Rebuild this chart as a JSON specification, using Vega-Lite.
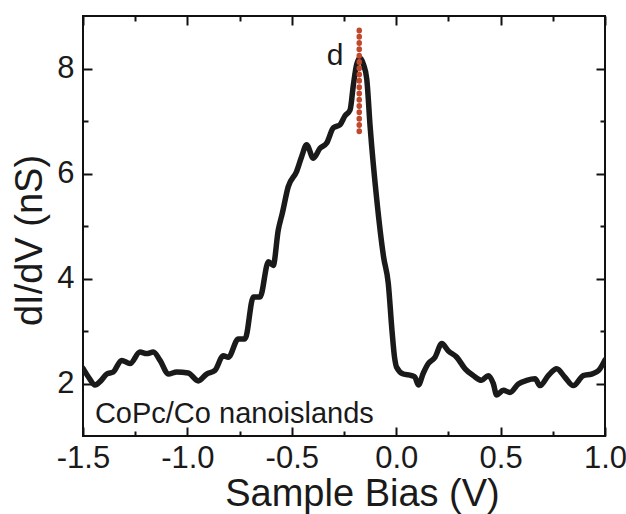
{
  "$schema": "https://vega.github.io/schema/vega-lite/v6.json",
  "width": 522,
  "height": 420,
  "autosize": {"type": "none"},
  "padding": {"left": 83, "top": 16, "right": 21, "bottom": 78},
  "config": {
    "view": {"stroke": "#111", "strokeWidth": 2},
    "font": "Liberation Sans",
    "axis": {
      "grid": false,
      "domain": false,
      "tickColor": "#111",
      "tickWidth": 2,
      "labelColor": "#1a1a1a",
      "titleColor": "#1a1a1a",
      "labelFont": "Liberation Sans",
      "titleFont": "Liberation Sans",
      "titleFontWeight": "normal",
      "labelFontSize": 31,
      "titleFontSize": 38
    }
  },
  "layer": [
    {
      "data": {"values": [
        {"bias": -1.5, "g": 2.29}, {"bias": -1.47, "g": 2.1}, {"bias": -1.443, "g": 1.97}, {"bias": -1.415, "g": 2.05},
        {"bias": -1.386, "g": 2.18}, {"bias": -1.355, "g": 2.22}, {"bias": -1.315, "g": 2.44}, {"bias": -1.275, "g": 2.38},
        {"bias": -1.227, "g": 2.6}, {"bias": -1.195, "g": 2.57}, {"bias": -1.163, "g": 2.6}, {"bias": -1.131, "g": 2.44},
        {"bias": -1.091, "g": 2.18}, {"bias": -1.051, "g": 2.22}, {"bias": -0.996, "g": 2.2}, {"bias": -0.948, "g": 2.05},
        {"bias": -0.908, "g": 2.18}, {"bias": -0.868, "g": 2.25}, {"bias": -0.828, "g": 2.53}, {"bias": -0.804, "g": 2.5},
        {"bias": -0.756, "g": 2.85}, {"bias": -0.724, "g": 2.85}, {"bias": -0.684, "g": 3.65}, {"bias": -0.652, "g": 3.65},
        {"bias": -0.612, "g": 4.32}, {"bias": -0.589, "g": 4.25}, {"bias": -0.565, "g": 4.92}, {"bias": -0.545, "g": 5.25},
        {"bias": -0.517, "g": 5.75}, {"bias": -0.477, "g": 6.04}, {"bias": -0.453, "g": 6.32}, {"bias": -0.429, "g": 6.55},
        {"bias": -0.397, "g": 6.29}, {"bias": -0.365, "g": 6.48}, {"bias": -0.333, "g": 6.58}, {"bias": -0.301, "g": 6.87},
        {"bias": -0.269, "g": 6.93}, {"bias": -0.245, "g": 7.1}, {"bias": -0.221, "g": 7.21}, {"bias": -0.205, "g": 7.69},
        {"bias": -0.189, "g": 8.08}, {"bias": -0.173, "g": 8.2}, {"bias": -0.157, "g": 8.08}, {"bias": -0.141, "g": 7.8},
        {"bias": -0.125, "g": 6.9}, {"bias": -0.093, "g": 5.5}, {"bias": -0.06, "g": 4.4}, {"bias": -0.038, "g": 3.91},
        {"bias": -0.02, "g": 3.0}, {"bias": -0.008, "g": 2.5}, {"bias": 0.002, "g": 2.31}, {"bias": 0.034, "g": 2.18},
        {"bias": 0.074, "g": 2.15}, {"bias": 0.09, "g": 2.12}, {"bias": 0.106, "g": 1.97}, {"bias": 0.13, "g": 2.2},
        {"bias": 0.154, "g": 2.38}, {"bias": 0.186, "g": 2.5}, {"bias": 0.218, "g": 2.76}, {"bias": 0.25, "g": 2.62},
        {"bias": 0.29, "g": 2.5}, {"bias": 0.33, "g": 2.28}, {"bias": 0.369, "g": 2.15}, {"bias": 0.409, "g": 2.06},
        {"bias": 0.441, "g": 2.15}, {"bias": 0.465, "g": 2.0}, {"bias": 0.481, "g": 1.78}, {"bias": 0.513, "g": 1.87},
        {"bias": 0.545, "g": 1.83}, {"bias": 0.585, "g": 1.99}, {"bias": 0.625, "g": 2.06}, {"bias": 0.665, "g": 2.09},
        {"bias": 0.689, "g": 1.96}, {"bias": 0.728, "g": 2.15}, {"bias": 0.769, "g": 2.28}, {"bias": 0.808, "g": 2.12},
        {"bias": 0.848, "g": 1.96}, {"bias": 0.896, "g": 2.15}, {"bias": 0.936, "g": 2.18}, {"bias": 0.97, "g": 2.25},
        {"bias": 1.0, "g": 2.45}
      ]},
      "mark": {"type": "line", "interpolate": "monotone", "stroke": "#1a1a1a", "strokeWidth": 5.5, "strokeCap": "round", "strokeJoin": "round", "clip": true},
      "encoding": {
        "x": {
          "field": "bias", "type": "quantitative",
          "scale": {"domain": [-1.5, 1.0], "nice": false, "zero": false},
          "axis": {
            "orient": "bottom",
            "title": "Sample Bias (V)",
            "titleX": 279,
            "titleY": 69,
            "titleBaseline": "alphabetic",
            "values": [-1.5, -1.25, -1.0, -0.75, -0.5, -0.25, 0, 0.25, 0.5, 0.75, 1.0],
            "labelExpr": "abs(datum.value*2 - round(datum.value*2)) < 0.001 ? replace(format(datum.value, '.1f'), '\u2212', '-') : ''",
            "tickSize": {"condition": {"test": "abs(datum.value*2 - round(datum.value*2)) < 0.001", "value": -9}, "value": -5},
            "labelPadding": 16,
            "labelFlush": false,
            "labelOverlap": false
          }
        },
        "y": {
          "field": "g", "type": "quantitative",
          "scale": {"domain": [1, 9], "nice": false, "zero": false},
          "axis": {
            "orient": "left",
            "title": "dI/dV (nS)",
            "titleY": 224,
            "titleX": -34,
            "values": [2, 3, 4, 5, 6, 7, 8],
            "labelExpr": "datum.value % 2 == 0 ? format(datum.value, 'd') : ''",
            "tickSize": {"condition": {"test": "datum.value % 2 == 0", "value": -9}, "value": -5},
            "labelPadding": 18,
            "labelFlush": false,
            "labelOverlap": false
          }
        }
      }
    },
    {
      "data": {"values": [{"bias": -0.177, "lo": 6.8, "hi": 8.82}]},
      "mark": {"type": "rule", "stroke": "#c0482c", "strokeWidth": 5.5, "strokeCap": "round", "strokeDash": [0.5, 5.8]},
      "encoding": {
        "x": {
          "field": "bias", "type": "quantitative",
          "axis": {
            "orient": "top",
            "title": null,
            "labels": false,
            "values": [-1.5, -1.25, -1.0, -0.75, -0.5, -0.25, 0, 0.25, 0.5, 0.75, 1.0],
            "tickSize": {"condition": {"test": "abs(datum.value*2 - round(datum.value*2)) < 0.001", "value": -9}, "value": -5}
          }
        },
        "y": {
          "field": "lo", "type": "quantitative",
          "axis": {
            "orient": "right",
            "title": null,
            "labels": false,
            "values": [2, 3, 4, 5, 6, 7, 8],
            "tickSize": {"condition": {"test": "datum.value % 2 == 0", "value": -9}, "value": -5}
          }
        },
        "y2": {"field": "hi"}
      }
    },
    {
      "data": {"values": [{"bias": -0.293, "g": 8.06, "label": "d"}]},
      "mark": {"type": "text", "font": "Liberation Sans", "fontSize": 30, "color": "#1a1a1a", "align": "center", "baseline": "alphabetic"},
      "encoding": {
        "x": {"field": "bias", "type": "quantitative", "axis": null},
        "y": {"field": "g", "type": "quantitative", "axis": null},
        "text": {"field": "label"}
      }
    },
    {
      "data": {"values": [{"bias": -1.443, "g": 1.255, "label": "CoPc/Co nanoislands"}]},
      "mark": {"type": "text", "font": "Liberation Sans", "fontSize": 29, "color": "#1a1a1a", "align": "left", "baseline": "alphabetic"},
      "encoding": {
        "x": {"field": "bias", "type": "quantitative", "axis": null},
        "y": {"field": "g", "type": "quantitative", "axis": null},
        "text": {"field": "label"}
      }
    }
  ],
  "resolve": {"axis": {"x": "independent", "y": "independent"}}
}
